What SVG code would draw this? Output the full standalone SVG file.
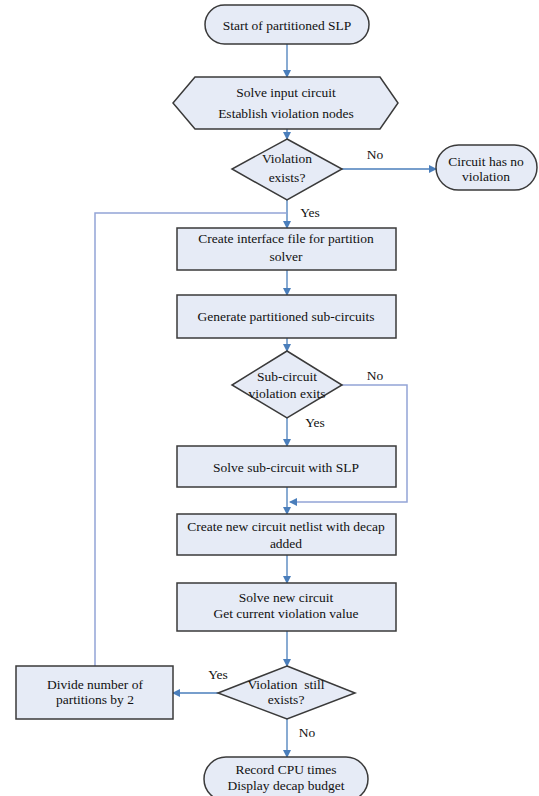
<svg xmlns="http://www.w3.org/2000/svg" width="539" height="796" viewBox="0 0 539 796">
<defs>
<marker id="ah" markerWidth="8" markerHeight="8" refX="7" refY="4" orient="auto" markerUnits="userSpaceOnUse">
<path d="M0,0 L8,4 L0,8 Z" fill="#4a7ebb"/>
</marker>
<style>
.n{fill:#e6ebf6;stroke:#3a3a3a;stroke-width:1.5}
.t{font-family:"Liberation Serif","Times New Roman",serif;font-size:13.5px;fill:#111;text-anchor:middle}
.c{fill:none;stroke:#4a7ebb;stroke-width:1.3}
.l{fill:none;stroke:#93a4d6;stroke-width:1.5}
</style>
</defs>
<rect width="539" height="796" fill="#fff"/>
<g id="connectors">
<line class="c" x1="287" y1="44" x2="287" y2="77" marker-end="url(#ah)"/>
<line class="c" x1="287" y1="129" x2="287" y2="139" marker-end="url(#ah)"/>
<line class="c" x1="342" y1="169" x2="436" y2="169" marker-end="url(#ah)"/>
<line class="c" x1="287" y1="200" x2="287" y2="228" marker-end="url(#ah)"/>
<line class="c" x1="287" y1="270" x2="287" y2="295" marker-end="url(#ah)"/>
<line class="c" x1="287" y1="338" x2="287" y2="351" marker-end="url(#ah)"/>
<line class="c" x1="287" y1="418" x2="287" y2="446" marker-end="url(#ah)"/>
<polyline class="l" points="342,385 407,385 407,502 290,502" marker-end="url(#ah)"/>
<line class="c" x1="287" y1="487" x2="287" y2="514" marker-end="url(#ah)"/>
<line class="c" x1="287" y1="555" x2="287" y2="583" marker-end="url(#ah)"/>
<line class="c" x1="287" y1="631" x2="287" y2="666" marker-end="url(#ah)"/>
<line class="c" x1="218" y1="693" x2="173" y2="693" marker-end="url(#ah)"/>
<polyline class="l" points="95,666 95,213 287,213"/>
<line class="c" x1="287" y1="719" x2="287" y2="757" marker-end="url(#ah)"/>
<text class="t" x="310" y="217">Yes</text>
<text class="t" x="375" y="159">No</text>
<text class="t" x="375" y="380">No</text>
<text class="t" x="315" y="427">Yes</text>
<text class="t" x="218" y="679">Yes</text>
<text class="t" x="307" y="737">No</text>
</g>
<g id="start">
<rect class="n" x="205" y="5" width="164" height="39" rx="19.5"/>
<text class="t" x="287" y="30">Start of partitioned SLP</text>
</g>
<g id="solve-input">
<polygon class="n" points="173,103 195,77 380,77 398,103 380,129 195,129"/>
<text class="t" x="286" y="97">Solve input circuit</text>
<text class="t" x="286" y="118">Establish violation nodes</text>
</g>
<g id="violation-exists">
<polygon class="n" points="287,139 342,169 287,200 232,169"/>
<text class="t" x="287" y="163">Violation</text>
<text class="t" x="287" y="182">exists?</text>
</g>
<g id="no-violation">
<rect class="n" x="436" y="145" width="101" height="45" rx="22.5"/>
<text class="t" x="486" y="166">Circuit has no</text>
<text class="t" x="486" y="181">violation</text>
</g>
<g id="interface-file">
<rect class="n" x="177" y="228" width="219" height="42"/>
<text class="t" x="286" y="243">Create interface file for partition</text>
<text class="t" x="286" y="261">solver</text>
</g>
<g id="generate">
<rect class="n" x="177" y="295" width="219" height="43"/>
<text class="t" x="286" y="321">Generate partitioned sub-circuits</text>
</g>
<g id="sub-violation">
<polygon class="n" points="287,351 342,385 287,418 232,385"/>
<text class="t" x="287" y="381">Sub-circuit</text>
<text class="t" x="287" y="398">violation exits</text>
</g>
<g id="solve-sub">
<rect class="n" x="177" y="446" width="219" height="41"/>
<text class="t" x="286" y="472">Solve sub-circuit with SLP</text>
</g>
<g id="netlist">
<rect class="n" x="177" y="514" width="219" height="41"/>
<text class="t" x="286" y="531">Create new circuit netlist with decap</text>
<text class="t" x="286" y="548">added</text>
</g>
<g id="solve-new">
<rect class="n" x="177" y="583" width="219" height="48"/>
<text class="t" x="286" y="602">Solve new circuit</text>
<text class="t" x="286" y="618">Get current violation value</text>
</g>
<g id="still-exists">
<polygon class="n" points="287,666 355,693 287,719 218,693"/>
<text class="t" x="286" y="689" xml:space="preserve">Violation  still</text>
<text class="t" x="286" y="704">exists?</text>
</g>
<g id="divide">
<rect class="n" x="16" y="666" width="157" height="53"/>
<text class="t" x="95" y="689">Divide number of</text>
<text class="t" x="95" y="704">partitions by 2</text>
</g>
<g id="end">
<rect class="n" x="204" y="757" width="164" height="44" rx="22"/>
<text class="t" x="286" y="774">Record CPU times</text>
<text class="t" x="286" y="790">Display decap budget</text>
</g>
</svg>
